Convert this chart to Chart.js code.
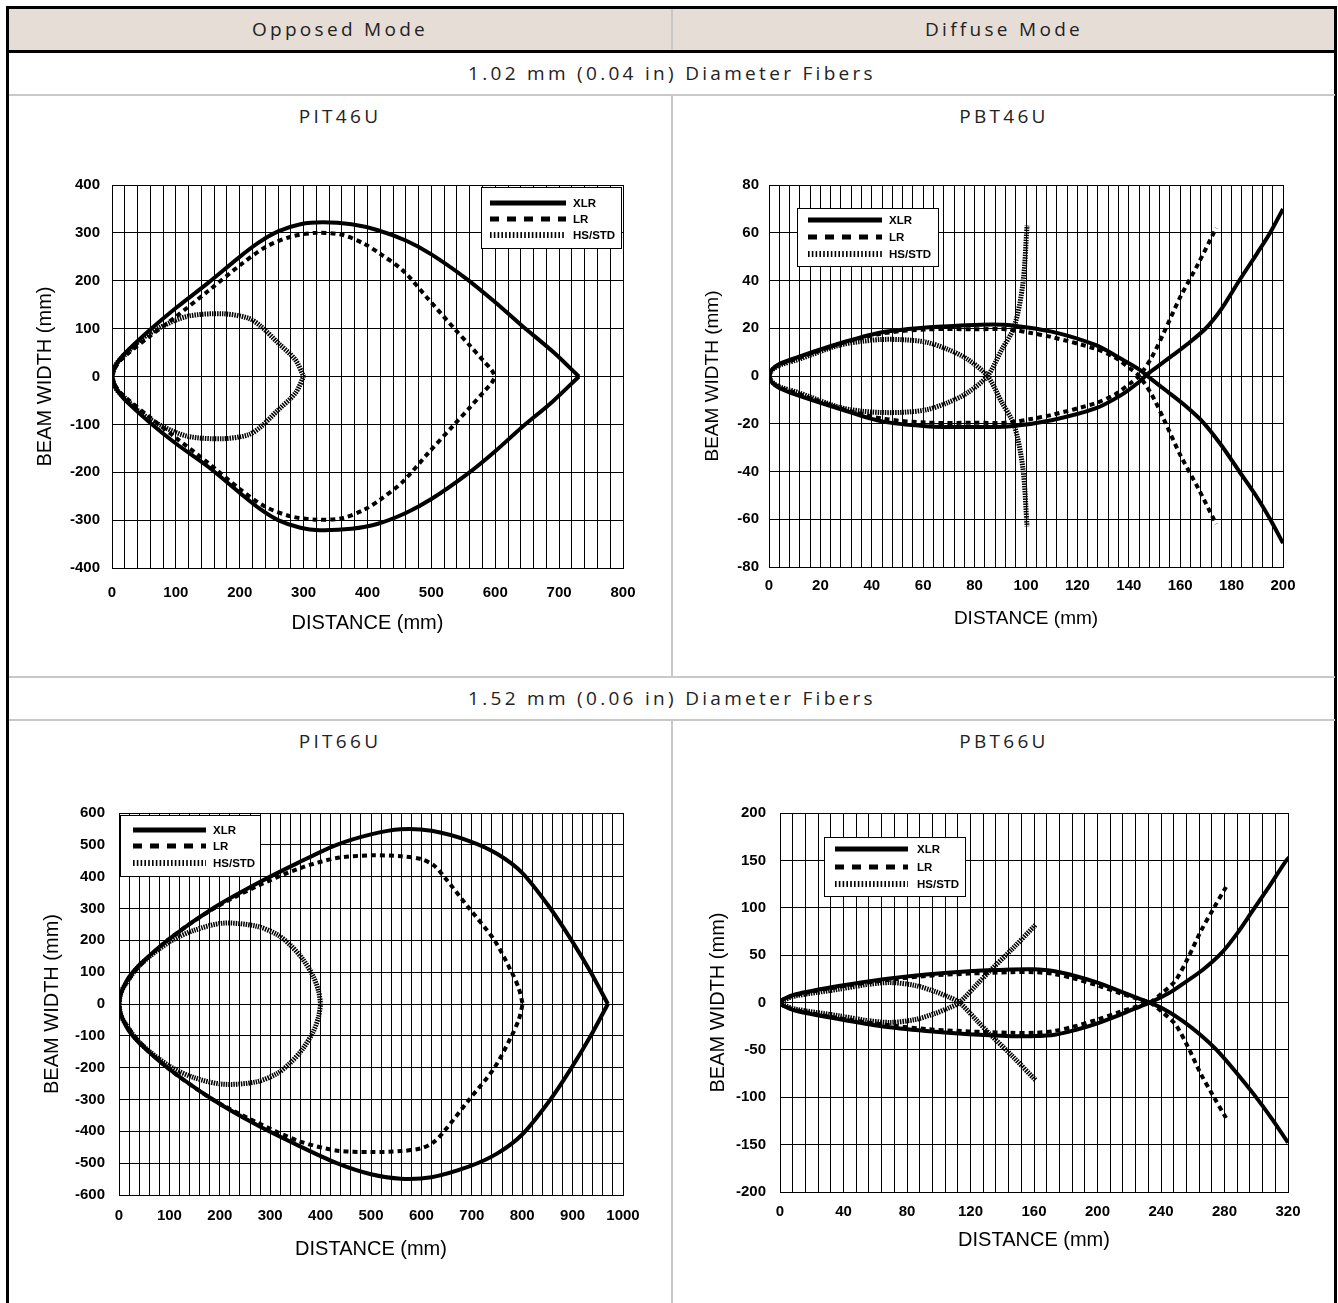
<!DOCTYPE html>
<html>
<head>
<meta charset="utf-8">
<script src="https://cdn.jsdelivr.net/npm/chart.js@4.4.1/dist/chart.umd.min.js"></script>
<style>
html,body{margin:0;padding:0;background:#fff;width:1338px;height:1303px;overflow:hidden;}
.abs{position:absolute;}
.hdr{background:#e6ddd6;}
.txt{position:absolute;text-align:center;font-family:"Open Sans","DejaVu Sans",sans-serif;font-size:19px;letter-spacing:3.3px;color:#222;line-height:24px;white-space:nowrap;}
canvas{position:absolute;}
</style>
</head>
<body>
<div class="abs hdr" style="left:9px;top:9px;width:1326px;height:41px;"></div>
<div class="abs" style="left:6px;top:6px;width:1325px;height:1400px;border:3px solid #000;border-bottom:none;"></div>
<div class="abs" style="left:9px;top:50px;width:1326px;height:3px;background:#000;"></div>
<div class="abs" style="left:671px;top:9px;width:2px;height:41px;background:#c8c8c8;"></div>
<div class="abs" style="left:9px;top:94px;width:1326px;height:2px;background:#c8c8c8;"></div>
<div class="abs" style="left:671px;top:96px;width:2px;height:581px;background:#c8c8c8;"></div>
<div class="abs" style="left:9px;top:676px;width:1326px;height:2px;background:#c8c8c8;"></div>
<div class="abs" style="left:9px;top:719px;width:1326px;height:2px;background:#c8c8c8;"></div>
<div class="abs" style="left:671px;top:721px;width:2px;height:600px;background:#c8c8c8;"></div>

<div class="txt" style="left:9px;width:662px;top:17px;">Opposed Mode</div>
<div class="txt" style="left:673px;width:662px;top:17px;">Diffuse Mode</div>
<div class="txt" style="left:9px;width:1326px;top:61px;">1.02 mm (0.04 in) Diameter Fibers</div>
<div class="txt" style="left:9px;width:662px;top:104px;">PIT46U</div>
<div class="txt" style="left:673px;width:662px;top:104px;">PBT46U</div>
<div class="txt" style="left:9px;width:1326px;top:686px;">1.52 mm (0.06 in) Diameter Fibers</div>
<div class="txt" style="left:9px;width:662px;top:729px;">PIT66U</div>
<div class="txt" style="left:673px;width:662px;top:729px;">PBT66U</div>

<canvas id="c1" width="640" height="500" style="left:20px;top:160px;"></canvas>
<canvas id="c2" width="650" height="500" style="left:680px;top:160px;"></canvas>
<canvas id="c3" width="640" height="513" style="left:20px;top:790px;"></canvas>
<canvas id="c4" width="650" height="513" style="left:680px;top:790px;"></canvas>

<script>
// ---------------- DATA ----------------
const SERIES = ['XLR', 'LR', 'HS/STD'];
const X_TITLE = 'DISTANCE (mm)';
const Y_TITLE = 'BEAM WIDTH (mm)';

// PIT46U (opposed, 1.02 mm)
const PIT46U_X_TICKS = [0,100,200,300,400,500,600,700,800];
const PIT46U_Y_TICKS = [-400,-300,-200,-100,0,100,200,300,400];
const PIT46U_XLR_TOP = [[0,0],[4,18],[12,36],[25,55],[60,98],[100,143],[150,195],[200,250],[230,280],[260,303],[295,318],[330,322],[375,318],[415,306],[460,284],[500,255],[555,204],[600,155],[640,108],[690,52],[731,0]];
const PIT46U_XLR_BOT = [[0,0],[4,-18],[12,-36],[25,-55],[60,-97],[100,-140],[150,-188],[200,-243],[230,-275],[260,-300],[295,-316],[325,-321],[375,-318],[415,-308],[460,-285],[500,-256],[555,-205],[600,-156],[640,-108],[690,-52],[731,0]];
const PIT46U_LR_TOP = [[0,0],[4,16],[12,32],[25,48],[60,85],[100,125],[150,178],[200,232],[240,270],[280,292],[320,300],[360,296],[395,277],[420,256],[455,222],[495,162],[536,100],[560,65],[582,32],[594,14],[600,0]];
const PIT46U_LR_BOT = [[0,0],[4,-16],[12,-32],[25,-48],[60,-86],[100,-128],[150,-180],[200,-235],[240,-272],[280,-292],[320,-299],[360,-296],[395,-278],[420,-257],[455,-220],[495,-160],[536,-100],[560,-65],[582,-32],[594,-14],[600,0]];
const PIT46U_HS_TOP = [[0,0],[6,25],[18,42],[45,77],[79,105],[119,126],[173,131],[213,122],[233,105],[260,70],[287,35],[300,0]];
const PIT46U_HS_BOT = [[0,0],[6,-25],[18,-42],[45,-76],[79,-104],[119,-125],[173,-130],[213,-122],[233,-105],[260,-70],[287,-35],[300,0]];

// PBT46U (diffuse, 1.02 mm)
const PBT46U_X_TICKS = [0,20,40,60,80,100,120,140,160,180,200];
const PBT46U_Y_TICKS = [-80,-60,-40,-20,0,20,40,60,80];
const PBT46U_XLR_A = [[0,0],[1,2.5],[4,5],[11,7.8],[27,13.5],[44,18.3],[61,20.3],[77,21.3],[87,21.6],[94,21.3],[110,18.6],[127,13],[137,7.2],[144,2.8],[149,-1.5],[155,-6.5],[162,-12.5],[169,-19.5],[176,-29],[183,-40],[190,-51],[195,-60],[200,-70]];
const PBT46U_XLR_B = [[0,0],[1,-2.5],[4,-5],[11,-8],[27,-13.6],[44,-19],[61,-21],[77,-21.4],[94,-21],[110,-18.5],[127,-13.6],[137,-8],[144,-2.5],[147,0.5],[150,3],[157,8.6],[163,13.5],[170,20],[176,28],[183,40],[190,51.5],[195,60],[200,70]];
const PBT46U_LR_A = [[0,0],[1,2.3],[4,4.8],[11,7.3],[27,13.3],[44,17.8],[61,19.5],[80,19.6],[94,19.5],[102,18],[110,16.3],[127,11.4],[135,7.5],[140,3.5],[144,0],[149,-8],[154,-19],[160,-33],[167,-47],[174,-62]];
const PBT46U_LR_B = [[0,0],[1,-2.3],[4,-4.8],[11,-7.3],[27,-13.3],[44,-17.8],[61,-19.5],[80,-19.6],[94,-19.5],[102,-18],[110,-16.3],[127,-11.4],[135,-7.5],[140,-3.5],[144,0],[149,8],[154,19],[160,33],[167,47],[174,62]];
const PBT46U_HS_A = [[0,0],[1,2.3],[4,4.5],[11,6.8],[27,12.8],[36,14.5],[44,15.3],[52,15.2],[61,14.2],[69,11.4],[77,7.2],[85,0],[90.5,-10.9],[95.4,-20.6],[98.8,-38.7],[100.4,-63]];
const PBT46U_HS_B = [[0,0],[1,-2.3],[4,-4.5],[11,-6.8],[27,-13],[36,-14.7],[44,-15.3],[52,-15.2],[61,-14.2],[69,-11.4],[77,-7.2],[85,0],[90.5,10.9],[95.4,20.6],[98.8,38.7],[100.4,63]];

// PIT66U (opposed, 1.52 mm)
const PIT66U_X_TICKS = [0,100,200,300,400,500,600,700,800,900,1000];
const PIT66U_Y_TICKS = [-600,-500,-400,-300,-200,-100,0,100,200,300,400,500,600];
const PIT66U_XLR_TOP = [[0,0],[3,30],[8,50],[20,85],[42,125],[100,205],[186,300],[271,376],[356,444],[432,500],[500,533],[559,549],[620,544],[695,512],[750,472],[800,412],[856,300],[898,200],[936,100],[970,0]];
const PIT66U_XLR_BOT = [[0,0],[3,-30],[8,-50],[20,-85],[42,-125],[100,-205],[186,-300],[271,-378],[356,-445],[432,-500],[500,-535],[559,-549],[620,-544],[695,-510],[750,-470],[800,-410],[856,-300],[898,-200],[936,-100],[970,0]];
const PIT66U_LR_TOP = [[0,0],[3,28],[10,55],[40,118],[100,205],[186,298],[271,368],[356,425],[430,458],[500,467],[560,464],[600,455],[625,435],[645,400],[695,300],[745,200],[779,100],[793,50],[801,0]];
const PIT66U_LR_BOT = [[0,0],[3,-28],[10,-55],[40,-118],[100,-205],[186,-300],[271,-370],[356,-430],[430,-460],[500,-465],[560,-462],[600,-453],[625,-433],[645,-400],[695,-300],[745,-200],[779,-100],[793,-50],[801,0]];
const PIT66U_HS_TOP = [[0,0],[3,30],[10,55],[40,120],[100,195],[150,232],[207,254],[271,245],[313,219],[340,185],[365,140],[386,85],[396,40],[400,0]];
const PIT66U_HS_BOT = [[0,0],[3,-30],[10,-55],[40,-120],[100,-195],[150,-232],[207,-252],[271,-245],[313,-219],[340,-185],[365,-140],[386,-85],[396,-40],[400,0]];

// PBT66U (diffuse, 1.52 mm)
const PBT66U_X_TICKS = [0,40,80,120,160,200,240,280,320];
const PBT66U_Y_TICKS = [-200,-150,-100,-50,0,50,100,150,200];
const PBT66U_XLR_A = [[0,0],[2,3.5],[10,8.7],[37,17.4],[64,24.4],[92,29.6],[119,33],[146,34.8],[159,35],[173,33],[186,28],[200,21],[214,12],[227,3.5],[235,-1.5],[245,-10],[254,-20],[264,-33],[275,-50],[287,-73],[299,-98],[310,-123],[320,-148],[322,-153]];
const PBT66U_XLR_B = [[0,0],[2,-3.5],[10,-8.7],[37,-17.4],[64,-25],[92,-30],[119,-33.5],[146,-35.5],[159,-35.5],[173,-34],[186,-29],[200,-22],[214,-13],[227,-4],[235,1.5],[245,10],[254,20],[266,34],[278,52],[288,73],[297,95],[308,122],[319,150],[322,155]];
const PBT66U_LR_A = [[0,0],[2,3],[10,8],[37,16.5],[64,23],[92,28],[119,30.5],[146,32],[160,32],[173,30],[186,25],[200,18],[214,10],[225,4],[233,0],[240,-9],[249,-23],[257,-47],[265,-75],[273,-99],[281,-122]];
const PBT66U_LR_B = [[0,0],[2,-3],[10,-8],[37,-16.5],[64,-23],[92,-28],[119,-30.5],[146,-32],[160,-32],[173,-30],[186,-25],[200,-18],[214,-10],[225,-4],[233,0],[240,9],[249,23],[257,47],[265,75],[273,99],[281,122]];
const PBT66U_HS_A = [[0,0],[2,2.5],[10,7],[37,14],[55,19],[70,21],[85,18],[97,12],[106,6],[113,0],[124,-19],[132,-33],[146,-56],[161,-82]];
const PBT66U_HS_B = [[0,0],[2,-2.5],[10,-7],[37,-14],[55,-19],[70,-21],[85,-18],[97,-12],[106,-6],[113,0],[124,19],[132,33],[146,56],[161,82]];

// ---------------- STYLES ----------------
const FONT = '"Liberation Sans",Arial,sans-serif';
const STYLES = [
  {width: 4, dash: [], color: '#000', lw: 5, ldash: []},
  {width: 4, dash: [5, 4], color: '#000', lw: 5, ldash: [9, 8]},
  {width: 5, dash: [1.5, 1.0], color: '#000', lw: 6, ldash: [1.6, 2.2]}
];

const boxLegend = {
  id: 'boxLegend',
  afterDatasetsDraw(chart, args, o) {
    const {ctx, chartArea} = chart;
    const x = Math.round(chartArea.left + o.x), y = Math.round(chartArea.top + o.y);
    ctx.save();
    ctx.fillStyle = '#fff';
    ctx.fillRect(x, y, o.w, o.h);
    ctx.strokeStyle = '#000';
    ctx.lineWidth = 1;
    ctx.setLineDash([]);
    ctx.strokeRect(x + 0.5, y + 0.5, o.w, o.h);
    const seen = [];
    chart.data.datasets.forEach(ds => { if (!seen.includes(ds.label)) seen.push(ds.label); });
    seen.forEach((lab, i) => {
      const st = STYLES[SERIES.indexOf(lab)];
      const ly = y + o.rows[i];
      ctx.beginPath();
      ctx.strokeStyle = '#000';
      ctx.lineWidth = st.lw;
      ctx.lineCap = 'butt';
      ctx.setLineDash(st.ldash);
      ctx.moveTo(x + o.l0, ly);
      ctx.lineTo(x + o.l1, ly);
      ctx.stroke();
      ctx.setLineDash([]);
      ctx.fillStyle = '#000';
      ctx.font = 'bold 11.5px ' + FONT;
      ctx.textBaseline = 'middle';
      ctx.textAlign = 'left';
      ctx.fillText(lab, x + o.tx, ly + 1);
    });
    ctx.restore();
  }
};

function makeChart(id, sets, xTicks, yTicks, L) {
  const datasets = [];
  sets.forEach((pair, s) => {
    pair.forEach(pts => {
      datasets.push({
        label: SERIES[s],
        data: pts.map(p => ({x: p[0], y: p[1]})),
        showLine: true,
        pointRadius: 0,
        borderColor: STYLES[s].color,
        borderWidth: STYLES[s].width,
        borderDash: STYLES[s].dash,
        tension: 0.3,
        fill: false,
        order: 2 - s
      });
    });
  });
  const xMajor = xTicks[1] - xTicks[0];
  const yMajor = yTicks[1] - yTicks[0];
  new Chart(document.getElementById(id), {
    type: 'scatter',
    data: {datasets},
    options: {
      responsive: false,
      animation: false,
      devicePixelRatio: 1,
      layout: {padding: L.pad},
      plugins: {legend: {display: false}, tooltip: {enabled: false}, boxLegend: L.legend},
      scales: {
        x: {
          type: 'linear', position: 'bottom',
          min: xTicks[0], max: xTicks[xTicks.length - 1],
          ticks: {
            stepSize: xMajor / 5, autoSkip: false, maxRotation: 0, minRotation: 0, maxTicksLimit: 200,
            padding: L.xTickPad, color: '#000',
            font: {family: FONT, size: L.tickSize, weight: 'bold'},
            callback: v => xTicks.includes(Math.round(v * 1000) / 1000) ? String(Math.round(v)) : ''
          },
          grid: {color: '#000', lineWidth: 1, drawTicks: false},
          border: {color: '#000', width: 1},
          title: {display: true, text: X_TITLE, color: '#000', padding: 0, font: {family: FONT, size: L.titleSize}},
          afterFit: s => { s.height = L.xAxisH; }
        },
        y: {
          type: 'linear', position: 'left',
          min: yTicks[0], max: yTicks[yTicks.length - 1],
          ticks: {
            stepSize: yMajor, autoSkip: false, padding: L.yTickPad, color: '#000',
            font: {family: FONT, size: L.tickSize, weight: 'bold'},
            callback: v => yTicks.includes(v) ? String(v) : ''
          },
          grid: {color: '#000', lineWidth: 1, drawTicks: false},
          border: {color: '#000', width: 1},
          title: {display: true, text: Y_TITLE, color: '#000', padding: 0, font: {family: FONT, size: L.titleSize}},
          afterFit: s => { s.width = L.yAxisW; }
        }
      }
    },
    plugins: [boxLegend]
  });
}

makeChart('c1',
  [[PIT46U_XLR_TOP, PIT46U_XLR_BOT], [PIT46U_LR_TOP, PIT46U_LR_BOT], [PIT46U_HS_TOP, PIT46U_HS_BOT]],
  PIT46U_X_TICKS, PIT46U_Y_TICKS,
  {pad: {left: 13, top: 25, right: 37, bottom: 25}, yAxisW: 79, xAxisH: 67, xTickPad: 16, yTickPad: 12, tickSize: 15, titleSize: 20,
   legend: {x: 369, y: 2, w: 140, h: 61, rows: [16, 32, 48], l0: 9, l1: 85, tx: 92}});

makeChart('c2',
  [[PBT46U_XLR_A, PBT46U_XLR_B], [PBT46U_LR_A, PBT46U_LR_B], [PBT46U_HS_A, PBT46U_HS_B]],
  PBT46U_X_TICKS, PBT46U_Y_TICKS,
  {pad: {left: 21, top: 25, right: 47, bottom: 30}, yAxisW: 68, xAxisH: 63, xTickPad: 10, yTickPad: 10, tickSize: 15, titleSize: 19,
   legend: {x: 28, y: 23, w: 141, h: 58, rows: [12, 29, 46], l0: 11, l1: 85, tx: 92}});

makeChart('c3',
  [[PIT66U_XLR_TOP, PIT66U_XLR_BOT], [PIT66U_LR_TOP, PIT66U_LR_BOT], [PIT66U_HS_TOP, PIT66U_HS_BOT]],
  PIT66U_X_TICKS, PIT66U_Y_TICKS,
  {pad: {left: 20, top: 22, right: 37, bottom: 42}, yAxisW: 79, xAxisH: 66, xTickPad: 12, yTickPad: 14, tickSize: 15, titleSize: 20,
   legend: {x: 1, y: 2, w: 140, h: 61, rows: [15, 31, 48], l0: 13, l1: 86, tx: 93}});

makeChart('c4',
  [[PBT66U_XLR_A, PBT66U_XLR_B], [PBT66U_LR_A, PBT66U_LR_B], [PBT66U_HS_A, PBT66U_HS_B]],
  PBT66U_X_TICKS, PBT66U_Y_TICKS,
  {pad: {left: 26, top: 18, right: 42, bottom: 51}, yAxisW: 74, xAxisH: 60, xTickPad: 11, yTickPad: 14, tickSize: 15, titleSize: 20,
   legend: {x: 44, y: 24, w: 141, h: 59, rows: [12, 30, 47], l0: 11, l1: 84, tx: 93}});
</script>
</body>
</html>
